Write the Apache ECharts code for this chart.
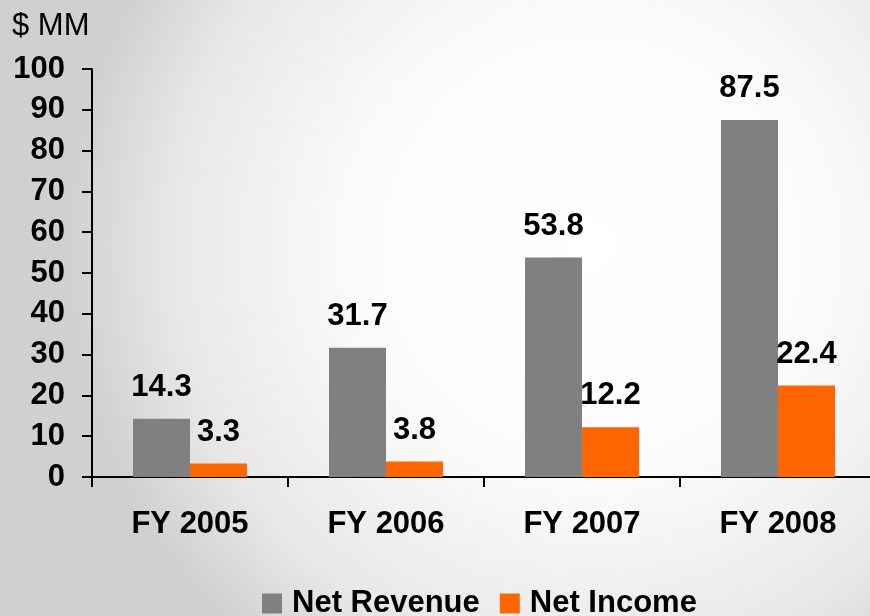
<!DOCTYPE html>
<html>
<head>
<meta charset="utf-8">
<script src="https://cdn.jsdelivr.net/npm/echarts@6/dist/echarts.min.js"></script>
<style>
  html, body { margin: 0; padding: 0; }
  #main { width: 870px; height: 616px; }
</style>
</head>
<body>
<div id="main"></div>
<script>
// data
var years = ['FY 2005', 'FY 2006', 'FY 2007', 'FY 2008'];
var netRevenue = [14.3, 31.7, 53.8, 87.5];
var netIncome = [3.3, 3.8, 12.2, 22.4];
var yTicks = [0, 10, 20, 30, 40, 50, 60, 70, 80, 90, 100];

var fontFam = '"Liberation Sans", Arial, sans-serif';

var barLabel = {
    show: true,
    position: 'top',
    distance: 16,
    color: '#000',
    fontFamily: fontFam,
    fontWeight: 'bold',
    fontSize: 31
};

var chart = echarts.init(document.getElementById('main'));
chart.setOption({
    backgroundColor: {
        type: 'radial', x: 0.68, y: 0.4, r: 0.85,
        colorStops: [
            {offset: 0, color: '#ffffff'},
            {offset: 0.45, color: '#fbfbfb'},
            {offset: 0.8, color: '#e8e8e8'},
            {offset: 1, color: '#d0d0d0'}
        ]
    },
    animation: false,
    title: {
        text: '$ MM',
        left: 12,
        top: 11,
        padding: 0,
        textStyle: {fontFamily: fontFam, fontWeight: 'normal', fontSize: 31, color: '#000'}
    },
    legend: {
        data: ['Net Revenue', 'Net Income'],
        left: 262,
        top: 588,
        padding: 0,
        itemWidth: 20,
        itemHeight: 20,
        itemGap: 20,
        icon: 'rect',
        textStyle: {fontFamily: fontFam, fontWeight: 'bold', fontSize: 31, color: '#000', padding: [0, 0, 0, 5]}
    },
    grid: {left: 92, top: 69, width: 784, height: 408, containLabel: false, outerBoundsMode: 'none'},
    xAxis: {
        type: 'category',
        data: years,
        axisLine: {lineStyle: {color: '#000', width: 2}},
        axisTick: {show: true, length: 10, lineStyle: {color: '#000', width: 2}},
        axisLabel: {margin: 32, color: '#000', fontFamily: fontFam, fontWeight: 'bold', fontSize: 31}
    },
    yAxis: {
        type: 'value',
        min: yTicks[0],
        max: yTicks[yTicks.length - 1],
        interval: 10,
        axisLine: {show: true, lineStyle: {color: '#000', width: 2}},
        axisTick: {show: true, length: 10, lineStyle: {color: '#000', width: 2}},
        axisLabel: {margin: 27, color: '#000', fontFamily: fontFam, fontWeight: 'bold', fontSize: 31},
        splitLine: {show: false}
    },
    series: [
        {
            name: 'Net Revenue',
            type: 'bar',
            data: netRevenue,
            barWidth: 57,
            barGap: '0%',
            itemStyle: {color: '#808080'},
            label: barLabel
        },
        {
            name: 'Net Income',
            type: 'bar',
            data: netIncome,
            barWidth: 57,
            barGap: '0%',
            itemStyle: {color: '#ff6600'},
            label: barLabel
        }
    ]
});
</script>
</body>
</html>
